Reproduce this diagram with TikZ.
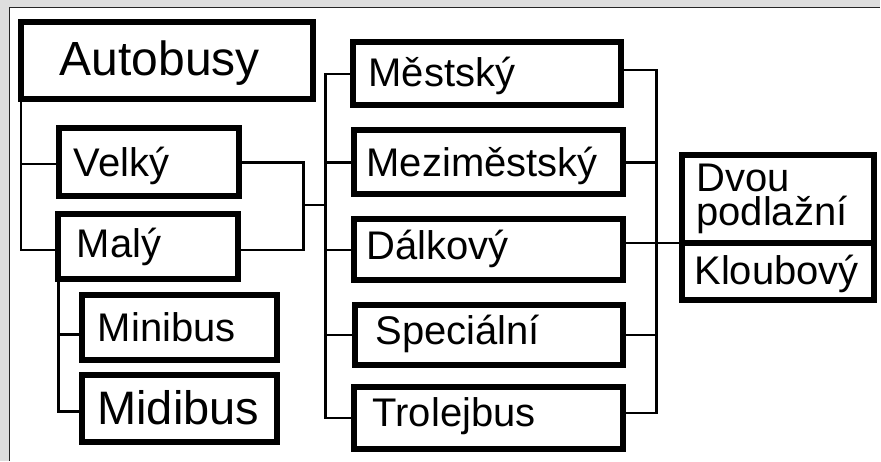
\documentclass[tikz,border=0pt]{standalone}
\usepackage{fontspec}
\setmainfont{Liberation Sans}
\hyphenpenalty=10000
\exhyphenpenalty=10000
\begin{document}
\begin{tikzpicture}[x=1pt,y=-1pt,
  bx/.style={draw, line width=6pt, rectangle, outer sep=0pt, inner ysep=0pt,
    align=left, font=\fontsize{40}{34}\selectfont},
  tb/.style 2 args={text height=#1pt, text depth=#2pt},
  wire/.style={line width=2.5pt}]
\fill[black!13] (0,0) rectangle (881,461);
\fill[white] (10,8) rectangle (881,461);
\draw[line width=1.5pt, black!85] (9.5,461) -- (9.5,7.5) -- (881,7.5);
\useasboundingbox (0,0) rectangle (881,461);

\node[bx, tb={36}{5}, minimum width=292pt, minimum height=77pt, inner xsep=39pt,
  text width=214pt, font=\fontsize{48}{50}\selectfont] (auto) at (167,60.5) {Autobusy};
\node[bx, tb={32}{3}, minimum width=180pt, minimum height=68pt, inner xsep=14.5pt,
  text width=151pt] (velky) at (149.5,162.5) {Velký};
\node[bx, tb={30}{8}, minimum width=180pt, minimum height=65pt, inner xsep=18.5pt,
  text width=143pt] (maly) at (148.5,247) {Malý};
\node[bx, tb={32}{4}, minimum width=195pt, minimum height=65pt, inner xsep=15.5pt,
  text width=164pt] (mini) at (180,328) {Minibus};
\node[bx, tb={36}{4}, minimum width=195pt, minimum height=67pt, inner xsep=15pt,
  text width=165pt, font=\fontsize{47}{50}\selectfont] (midi) at (180,409) {Midibus};

\node[bx, tb={31}{5}, minimum width=268pt, minimum height=63pt, inner xsep=15.5pt,
  text width=237pt] (mest) at (487.5,74) {Městský};
\node[bx, tb={32}{3}, minimum width=269pt, minimum height=64pt, inner xsep=12.5pt,
  text width=244pt] (mezi) at (489,162.5) {Meziměstský};
\node[bx, tb={29}{9}, minimum width=269pt, minimum height=61pt, inner xsep=12.5pt,
  text width=244pt] (dalk) at (489,250) {Dálkový};
\node[bx, tb={29}{10}, minimum width=268pt, minimum height=60pt, inner xsep=20.5pt,
  text width=227pt] (spec) at (489.5,335.5) {Speciální};
\node[bx, tb={28}{11}, minimum width=269pt, minimum height=62pt, inner xsep=18.5pt,
  text width=232pt] (trol) at (489,418.5) {Trolejbus};

\node[bx, minimum width=192pt, minimum height=88pt, inner xsep=14pt,
  text width=164pt] (dvou) at (779,199) {Dvou\\podlažní};
\node[bx, tb={31}{4}, minimum width=192pt, minimum height=57pt, inner xsep=12pt,
  text width=168pt] (kloub) at (779,271.5) {Kloubový};

\coordinate (jl) at (304,205);
\coordinate (jm) at (326,205);
\coordinate (jr) at (657,243);
\coordinate (vw) at ([yshift=-1.5pt]velky.west);
\coordinate (mlw) at ([yshift=-3pt]maly.west);
\coordinate (mle) at ([yshift=-3pt]maly.east);
\coordinate (mnw) at ([yshift=-7pt]mini.west);
\coordinate (mdw) at ([yshift=-3pt]midi.west);
\coordinate (mse) at ([yshift=4pt]mest.east);
\coordinate (tre) at ([yshift=5pt]trol.east);

\draw[wire] (auto.south west) |- (mlw);
\draw[wire] (auto.south west |- vw) -- (vw);
\draw[wire] (maly.south west) |- (mdw);
\draw[wire] (maly.south west |- mnw) -- (mnw);
\draw[wire] (velky.east) -| (jl) |- (mle);
\draw[wire] (jl) -- (jm);
\draw[wire] (mest.west) -| (jm) |- (trol.west);
\draw[wire] (jm |- mezi.west) -- (mezi.west);
\draw[wire] (jm |- dalk.west) -- (dalk.west);
\draw[wire] (jm |- spec.west) -- (spec.west);
\draw[wire] (mse) -| (jr) |- (tre);
\draw[wire] (jr |- mezi.east) -- (mezi.east);
\draw[wire] (jr |- spec.east) -- (spec.east);
\draw[wire] (dvou.south west -| dalk.east) -- (dvou.south west);
\end{tikzpicture}
\end{document}
